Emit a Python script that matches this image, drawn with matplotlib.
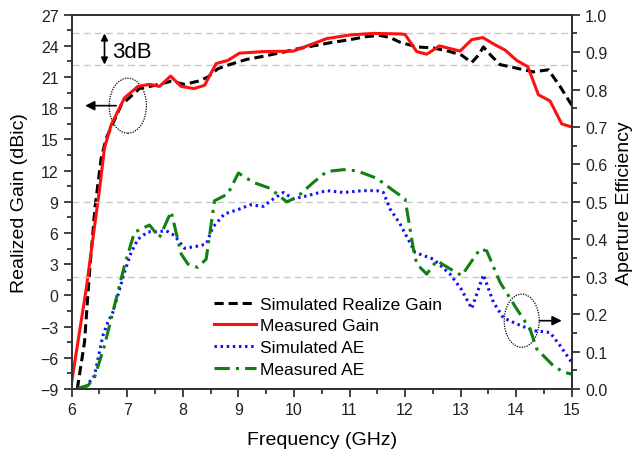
import matplotlib
matplotlib.use("Agg")
import matplotlib.pyplot as plt
from matplotlib.patches import Ellipse
from matplotlib.ticker import MultipleLocator

plt.rcParams['font.family'] = ['Liberation Sans', 'DejaVu Sans']

# ---- data ----
sim_gain_f = [6.1, 6.23, 6.32, 6.42, 6.53, 6.62, 6.89, 7.22, 7.49, 7.79, 8.03, 8.27, 8.45, 8.63,
              8.84, 9.15, 9.45, 9.81, 10.05, 10.35, 10.65, 11.01, 11.31, 11.55, 11.73, 11.91,
              12.21, 12.51, 12.81, 13.02, 13.20, 13.32, 13.41, 13.56, 13.71, 14.01, 14.31,
              14.58, 14.79, 15.0]
sim_gain = [-9.0, -4.5, 2.2, 8.5, 13.2, 15.1, 18.3, 19.9, 20.2, 20.6, 20.3, 20.6, 21.0, 21.8,
            22.2, 22.7, 23.0, 23.4, 23.7, 24.0, 24.3, 24.6, 24.9, 25.0, 24.8, 24.35,
            23.9, 23.8, 23.45, 23.1, 22.4, 23.1, 23.9, 23.0, 22.2, 21.85, 21.5,
            21.7, 20.1, 18.3]

meas_gain_f = [6.0, 6.26, 6.5, 6.59, 6.71, 6.95, 7.19, 7.40, 7.58, 7.78, 7.97, 8.20, 8.39, 8.60,
               8.81, 9.02, 9.45, 9.99, 10.29, 10.59, 11.01, 11.43, 11.91, 12.0, 12.21, 12.39,
               12.62, 12.99, 13.20, 13.40, 13.62, 13.80, 14.01, 14.21, 14.40, 14.61, 14.82, 15.0]
meas_gain = [-8.3, 0.6, 10.2, 14.2, 16.4, 19.0, 20.1, 20.3, 20.1, 21.1, 20.1, 19.9, 20.2, 22.3,
             22.6, 23.3, 23.45, 23.5, 24.1, 24.7, 25.05, 25.2, 25.15, 25.1, 23.45, 23.2,
             24.0, 23.5, 24.6, 24.8, 24.1, 23.6, 22.6, 22.0, 19.3, 18.7, 16.5, 16.2]

sim_ae_f = [6.15, 6.23, 6.41, 6.56, 6.65, 6.74, 6.83, 6.95, 7.07, 7.19, 7.37, 7.55, 7.70, 7.85,
            8.03, 8.24, 8.42, 8.54, 8.75, 8.99, 9.21, 9.45, 9.63, 9.81, 9.99, 10.23, 10.59,
            10.89, 11.25, 11.49, 11.61, 11.73, 11.91, 12.18, 12.51, 12.81, 13.01, 13.20,
            13.41, 13.59, 13.77, 14.01, 14.31, 14.61, 14.79, 15.0]
sim_ae = [0.0, 0.002, 0.036, 0.142, 0.178, 0.205, 0.25, 0.312, 0.365, 0.40, 0.42, 0.42, 0.423,
          0.41, 0.376, 0.381, 0.387, 0.432, 0.468, 0.479, 0.492, 0.488, 0.508, 0.525, 0.508,
          0.516, 0.53, 0.525, 0.53, 0.53, 0.525, 0.481, 0.441, 0.365, 0.347, 0.307, 0.267,
          0.215, 0.305, 0.232, 0.19, 0.174, 0.156, 0.151, 0.116, 0.071]

meas_ae_f = [6.1, 6.29, 6.41, 6.59, 6.77, 6.95, 7.13, 7.40, 7.58, 7.79, 7.97, 8.09, 8.27, 8.42,
             8.57, 8.81, 9.0, 9.27, 9.57, 9.87, 10.05, 10.35, 10.59, 10.89, 11.13, 11.49,
             11.79, 12.0, 12.15, 12.21, 12.39, 12.57, 12.81, 13.02, 13.35, 13.47, 13.71,
             14.01, 14.25, 14.37, 14.67, 14.85, 15.0]
meas_ae = [0.002, 0.009, 0.031, 0.116, 0.223, 0.33, 0.419, 0.438, 0.405, 0.474, 0.361, 0.334,
           0.325, 0.347, 0.503, 0.521, 0.577, 0.552, 0.536, 0.50, 0.512, 0.552, 0.581, 0.586,
           0.583, 0.563, 0.53, 0.508, 0.374, 0.334, 0.307, 0.343, 0.321, 0.303, 0.374,
           0.369, 0.285, 0.214, 0.16, 0.107, 0.062, 0.045, 0.04]

gain_ref_lines = [25.2, 22.2]
ae_ref_lines = [0.5, 0.3]

# ---- figure ----
fig = plt.figure(figsize=(6.33, 4.56), dpi=100)
ax1 = fig.add_axes([0.1133, 0.1447, 0.7899, 0.8209])
ax2 = ax1.twinx()

for g in gain_ref_lines:
    ax1.axhline(g, color='#c8c8c8', lw=1.0, ls=(0, (5, 3)), zorder=0)
for a in ae_ref_lines:
    ax2.axhline(a, color='#c8c8c8', lw=1.0, ls=(0, (5, 3)), zorder=0)

l1, = ax1.plot(sim_gain_f, sim_gain, color='black', lw=2.2, ls=(0, (3, 1.6)),
               label='Simulated Realize Gain')
l2, = ax1.plot(meas_gain_f, meas_gain, color='#ff1010', lw=2.2, label='Measured Gain')
l3, = ax2.plot(sim_ae_f, sim_ae, color='#1010ff', lw=2.2, ls=(0, (0.8, 1.2)),
               label='Simulated AE')
l4, = ax2.plot(meas_ae_f, meas_ae, color='#108010', lw=2.2, ls=(0, (5, 2, 1, 2)),
               label='Measured AE')

ax1.set_xlim(6, 15)
ax1.set_ylim(-9, 27)
ax2.set_ylim(0, 1.0)

ax1.xaxis.set_major_locator(MultipleLocator(1))
ax1.xaxis.set_minor_locator(MultipleLocator(0.5))
ax1.yaxis.set_major_locator(MultipleLocator(3))
ax1.yaxis.set_minor_locator(MultipleLocator(1.5))
ax2.yaxis.set_major_locator(MultipleLocator(0.1))
ax2.yaxis.set_minor_locator(MultipleLocator(0.05))
ax2.yaxis.set_major_formatter(matplotlib.ticker.FormatStrFormatter('%.1f'))

for ax in (ax1, ax2):
    ax.tick_params(which='major', direction='out', length=6, width=1.2, labelsize=11.5,
                   color='#222222', labelcolor='#222222')
    ax.tick_params(which='minor', direction='out', length=3.5, width=1.2, color='#222222')
    for s in ax.spines.values():
        s.set_linewidth(1.4)
        s.set_color('#333333')
ax1.tick_params(axis='x', top=False)

ax1.set_xlabel('Frequency (GHz)', fontsize=14, labelpad=10)
ax1.set_ylabel('Realized Gain (dBic)', fontsize=14, labelpad=9)
ax2.set_ylabel('Aperture Efficiency', fontsize=14, labelpad=6)

# annotations
ax1.annotate('', xy=(6.59, 25.2), xytext=(6.59, 22.2),
             arrowprops=dict(arrowstyle='<|-|>', color='black', lw=1.2,
                             mutation_scale=10, shrinkA=0, shrinkB=0))
ax1.text(6.72, 23.45, '3dB', fontsize=16, va='center', ha='left')

ax1.add_patch(Ellipse((7.01, 18.25), 0.67, 5.3, fill=False, ls=(0, (1, 1)),
                      lw=0.9, color='black'))
ax1.annotate('', xy=(6.24, 18.25), xytext=(6.80, 18.25),
             arrowprops=dict(arrowstyle='-|>', color='black', lw=1.2,
                             mutation_scale=14, shrinkA=0, shrinkB=0))
ax2.add_patch(Ellipse((14.10, 0.1825), 0.63, 0.142, fill=False, ls=(0, (1, 1)),
                      lw=0.9, color='black'))
ax2.annotate('', xy=(14.82, 0.1825), xytext=(14.42, 0.1825),
             arrowprops=dict(arrowstyle='-|>', color='black', lw=1.2,
                             mutation_scale=14, shrinkA=0, shrinkB=0))

ax2.legend(handles=[l1, l2, l3, l4], loc='lower left', bbox_to_anchor=(0.26, 0.0),
           frameon=False, fontsize=12.5, handlelength=2.4, handletextpad=0.25,
           labelspacing=0.38, borderaxespad=0.3)

fig.savefig('out.png', dpi=100)
